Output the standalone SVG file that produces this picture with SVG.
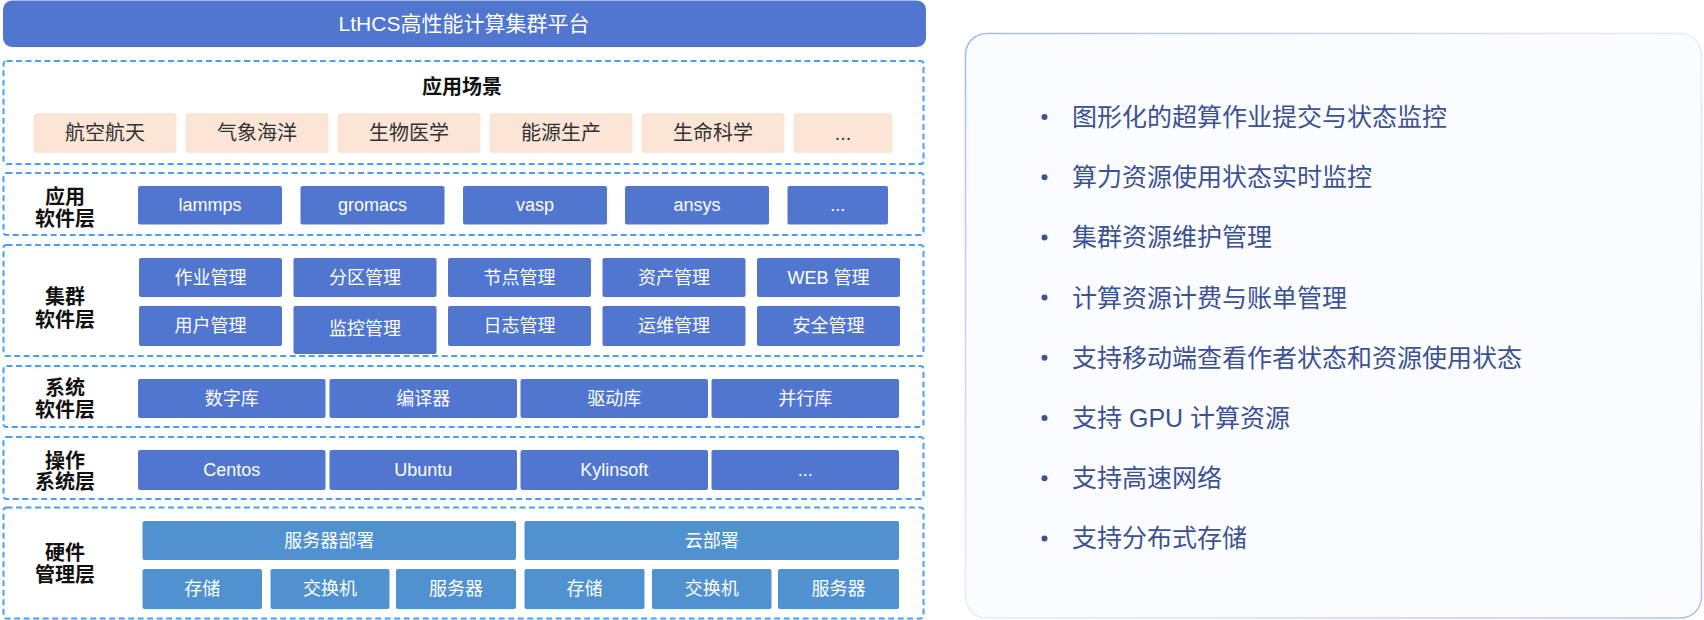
<svg xmlns="http://www.w3.org/2000/svg" width="1704" height="620" viewBox="0 0 1704 620">
<defs>
<linearGradient id="panelStroke" x1="0" y1="0" x2="1" y2="1">
<stop offset="0" stop-color="#a6bbea"/>
<stop offset="0.5" stop-color="#e9eefa"/>
<stop offset="1" stop-color="#b3c2e4"/>
</linearGradient>
<style>
text{font-family:"Liberation Sans","Noto Sans CJK SC",sans-serif;dominant-baseline:central;text-anchor:middle}
.dash{fill:none;stroke:#4a9ff5;stroke-width:2;stroke-dasharray:6 3.5}
.scn{fill:#fbe5d6}
.scnT{font-size:20px;fill:#333333}
.blue{fill:#5176cf}
.hw{fill:#5092d0}
.wt{font-size:18px;fill:#ffffff}
.lbl{font-size:20px;font-weight:bold;fill:#111111}
.bul{font-size:25px;fill:#3b5293;text-anchor:start}
.dot{fill:#3b5293}
</style>
</defs>
<rect width="1704" height="620" fill="#ffffff"/>

<g id="title">
<rect x="3" y="0.5" width="923" height="46.5" rx="9" fill="#5176cf"/>
<text x="464" y="23" style="font-size:21px;fill:#ffffff">LtHCS高性能计算集群平台</text>
</g>

<g id="scenario">
<rect class="dash" x="3.5" y="61" width="920" height="103" rx="3"/>
<text class="lbl" x="462" y="87">应用场景</text>
<rect class="scn" x="33.5" y="113" width="143" height="40" rx="3"/><text class="scnT" x="105" y="133">航空航天</text>
<rect class="scn" x="185.5" y="113" width="143" height="40" rx="3"/><text class="scnT" x="257" y="133">气象海洋</text>
<rect class="scn" x="337.5" y="113" width="143" height="40" rx="3"/><text class="scnT" x="409" y="133">生物医学</text>
<rect class="scn" x="489.5" y="113" width="143" height="40" rx="3"/><text class="scnT" x="561" y="133">能源生产</text>
<rect class="scn" x="641.5" y="113" width="143" height="40" rx="3"/><text class="scnT" x="713" y="133">生命科学</text>
<rect class="scn" x="793.5" y="113" width="99" height="40" rx="3"/><text class="scnT" x="843" y="133">...</text>
</g>

<g id="app-software">
<rect class="dash" x="3.5" y="173" width="920" height="62" rx="3"/>
<text class="lbl" x="65" y="197">应用</text>
<text class="lbl" x="65" y="219">软件层</text>
<rect class="blue" x="138" y="186" width="144" height="38.5" rx="2"/><text class="wt" x="210" y="205">lammps</text>
<rect class="blue" x="300.5" y="186" width="144" height="38.5" rx="2"/><text class="wt" x="372.5" y="205">gromacs</text>
<rect class="blue" x="463" y="186" width="144" height="38.5" rx="2"/><text class="wt" x="535" y="205">vasp</text>
<rect class="blue" x="625" y="186" width="144" height="38.5" rx="2"/><text class="wt" x="697" y="205">ansys</text>
<rect class="blue" x="787.5" y="186" width="100.5" height="38.5" rx="2"/><text class="wt" x="837.75" y="205">...</text>
</g>

<g id="cluster-software">
<rect class="dash" x="3.5" y="245" width="920" height="111" rx="3"/>
<text class="lbl" x="65" y="297">集群</text>
<text class="lbl" x="65" y="320">软件层</text>
<rect class="blue" x="139" y="258" width="143" height="39" rx="2"/><text class="wt" x="210.5" y="277.5">作业管理</text>
<rect class="blue" x="293.5" y="258" width="143" height="39" rx="2"/><text class="wt" x="365" y="277.5">分区管理</text>
<rect class="blue" x="448" y="258" width="143" height="39" rx="2"/><text class="wt" x="519.5" y="277.5">节点管理</text>
<rect class="blue" x="602.5" y="258" width="143" height="39" rx="2"/><text class="wt" x="674" y="277.5">资产管理</text>
<rect class="blue" x="757" y="258" width="143" height="39" rx="2"/><text class="wt" x="828.5" y="277.5">WEB 管理</text>
<rect class="blue" x="139" y="306" width="143" height="40" rx="2"/><text class="wt" x="210.5" y="326">用户管理</text>
<rect class="blue" x="293.5" y="306" width="143" height="48" rx="2"/><text class="wt" x="365" y="329">监控管理</text>
<rect class="blue" x="448" y="306" width="143" height="40" rx="2"/><text class="wt" x="519.5" y="326">日志管理</text>
<rect class="blue" x="602.5" y="306" width="143" height="40" rx="2"/><text class="wt" x="674" y="326">运维管理</text>
<rect class="blue" x="757" y="306" width="143" height="40" rx="2"/><text class="wt" x="828.5" y="326">安全管理</text>
</g>

<g id="system-software">
<rect class="dash" x="3.5" y="366" width="920" height="61" rx="3"/>
<text class="lbl" x="65" y="388">系统</text>
<text class="lbl" x="65" y="410">软件层</text>
<rect class="blue" x="138" y="379" width="187.5" height="39" rx="2"/><text class="wt" x="231.75" y="398.5">数字库</text>
<rect class="blue" x="329.5" y="379" width="187.5" height="39" rx="2"/><text class="wt" x="423.25" y="398.5">编译器</text>
<rect class="blue" x="520.5" y="379" width="187.5" height="39" rx="2"/><text class="wt" x="614.25" y="398.5">驱动库</text>
<rect class="blue" x="711.5" y="379" width="187.5" height="39" rx="2"/><text class="wt" x="805.25" y="398.5">并行库</text>
</g>

<g id="os">
<rect class="dash" x="3.5" y="437" width="920" height="62" rx="3"/>
<text class="lbl" x="65" y="461">操作</text>
<text class="lbl" x="65" y="482">系统层</text>
<rect class="blue" x="138" y="450" width="187.5" height="40" rx="2"/><text class="wt" x="231.75" y="470">Centos</text>
<rect class="blue" x="329.5" y="450" width="187.5" height="40" rx="2"/><text class="wt" x="423.25" y="470">Ubuntu</text>
<rect class="blue" x="520.5" y="450" width="187.5" height="40" rx="2"/><text class="wt" x="614.25" y="470">Kylinsoft</text>
<rect class="blue" x="711.5" y="450" width="187.5" height="40" rx="2"/><text class="wt" x="805.25" y="470">...</text>
</g>

<g id="hardware">
<rect class="dash" x="3.5" y="507.5" width="920" height="111" rx="3"/>
<text class="lbl" x="65" y="553">硬件</text>
<text class="lbl" x="65" y="575">管理层</text>
<rect class="hw" x="142.5" y="521" width="373.5" height="39" rx="2"/><text class="wt" x="329.25" y="540.5">服务器部署</text>
<rect class="hw" x="524.5" y="521" width="374.5" height="39" rx="2"/><text class="wt" x="711.75" y="540.5">云部署</text>
<rect class="hw" x="142.5" y="569" width="119.5" height="40" rx="2"/><text class="wt" x="202.25" y="589">存储</text>
<rect class="hw" x="270.5" y="569" width="119" height="40" rx="2"/><text class="wt" x="330" y="589">交换机</text>
<rect class="hw" x="396" y="569" width="120" height="40" rx="2"/><text class="wt" x="456" y="589">服务器</text>
<rect class="hw" x="524.5" y="569" width="120" height="40" rx="2"/><text class="wt" x="584.5" y="589">存储</text>
<rect class="hw" x="652" y="569" width="119.5" height="40" rx="2"/><text class="wt" x="711.75" y="589">交换机</text>
<rect class="hw" x="778" y="569" width="121" height="40" rx="2"/><text class="wt" x="838.5" y="589">服务器</text>
</g>

<g id="features">
<rect x="965.5" y="33.5" width="736" height="584.5" rx="21" fill="#fbfcff" stroke="url(#panelStroke)" stroke-width="1.6"/>
<circle class="dot" cx="1044.5" cy="117" r="3"/><text class="bul" x="1072" y="117">图形化的超算作业提交与状态监控</text>
<circle class="dot" cx="1044.5" cy="177.2" r="3"/><text class="bul" x="1072" y="177.2">算力资源使用状态实时监控</text>
<circle class="dot" cx="1044.5" cy="237.4" r="3"/><text class="bul" x="1072" y="237.4">集群资源维护管理</text>
<circle class="dot" cx="1044.5" cy="297.6" r="3"/><text class="bul" x="1072" y="297.6">计算资源计费与账单管理</text>
<circle class="dot" cx="1044.5" cy="357.8" r="3"/><text class="bul" x="1072" y="357.8">支持移动端查看作者状态和资源使用状态</text>
<circle class="dot" cx="1044.5" cy="418" r="3"/><text class="bul" x="1072" y="418">支持 GPU 计算资源</text>
<circle class="dot" cx="1044.5" cy="478.2" r="3"/><text class="bul" x="1072" y="478.2">支持高速网络</text>
<circle class="dot" cx="1044.5" cy="538.4" r="3"/><text class="bul" x="1072" y="538.4">支持分布式存储</text>
</g>

<g id="connectors"></g>
</svg>
